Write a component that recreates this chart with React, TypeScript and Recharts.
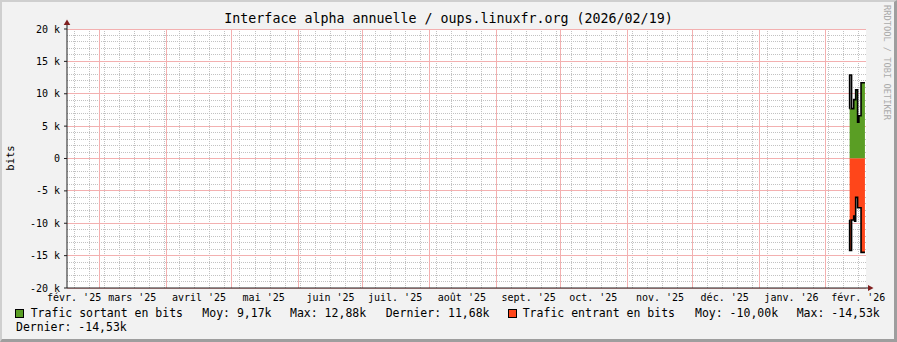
import { ComposedChart, Area, Line, XAxis, YAxis, ReferenceLine, ReferenceDot } from "recharts";

const FONT = "'DejaVu Sans Mono', monospace";

// x = days counted from 2025-03-01
const xDomain: [number, number] = [-15.3, 355.6];
const monthStarts = [0, 31, 61, 92, 122, 153, 184, 214, 245, 275, 306, 337];
const weekTicks = Array.from({ length: 53 }, (_, i) => -12 + 7 * i).filter((d) => !monthStarts.includes(d)); // Mondays
const labelDays = [-12, 15, 46, 76, 107, 137, 168, 199, 229, 260, 290, 321, 352];
const monthLabels = [
  "févr. '25", "mars '25", "avril '25", "mai '25", "juin '25", "juil. '25", "août '25",
  "sept. '25", "oct. '25", "nov. '25", "déc. '25", "janv. '26", "févr. '26",
];
const yMajor = [-20, -15, -10, -5, 0, 5, 10, 15, 20];
const yMinor = Array.from({ length: 41 }, (_, i) => i - 20).filter((v) => v % 5 !== 0);

// values in k bits
const stepDays = [347.95, 348.0, 348.9, 349.9, 350.3, 350.8, 351.7, 352.3, 353.3, 355.1];
const outLine = [7.7, 12.9, 7.7, 9.1, 9.1, 10.6, 5.6, 6.6, 11.7, 11.7];
const outArea = [null, 7.7, 7.7, 9.1, 9.1, 10.6, 5.6, 6.6, 11.7, 11.7];
const inLine = [-9.5, -14.2, -9.5, -8.9, -9.7, -6.0, -7.6, -7.6, -14.5, -14.5];
const inArea = [null, -14.2, -9.5, -8.9, -9.7, -6.0, -7.6, -7.6, -14.5, -14.5];

const GREEN = "#5a9e24";
const RED = "#ff461a";
const ARROW = "#801f1f";
const AXIS = "#1f1f1f";
const GRID = "#c2c2c2";
const MGRID = "#f3b0b0";

const data = stepDays.map((day, i) => ({
  day,
  outArea: outArea[i],
  outLine: outLine[i],
  inArea: inArea[i],
  inLine: inLine[i],
}));

const MARGIN = { top: 29, right: 31, bottom: 34, left: 0 };
const tickStyle = { fontFamily: FONT, fontSize: 10, fill: "#000" };

const XArrow = (props: any) => {
  const { cx, cy } = props;
  return (
    <g>
      <line x1={cx} y1={cy} x2={cx + 2} y2={cy} stroke={AXIS} />
      <polygon points={`${cx + 2},${cy - 3} ${cx + 7.5},${cy} ${cx + 2},${cy + 3}`} fill={ARROW} />
    </g>
  );
};

const YArrow = (props: any) => {
  const { cx, cy } = props;
  return (
    <g>
      <line x1={cx} y1={cy} x2={cx} y2={cy - 4} stroke={AXIS} />
      <polygon points={`${cx - 3.3},${cy - 4} ${cx},${cy - 9.5} ${cx + 3.3},${cy - 4}`} fill={ARROW} />
    </g>
  );
};

const legendText: { x: number; y: number; t: string }[] = [
  { x: 30.7, y: 307.6, t: "Trafic sortant en bits" },
  { x: 202.3, y: 307.6, t: "Moy: 9,17k" },
  { x: 290, y: 307.6, t: "Max: 12,88k" },
  { x: 385.7, y: 307.6, t: "Dernier: 11,68k" },
  { x: 522.7, y: 307.6, t: "Trafic entrant en bits" },
  { x: 695, y: 307.6, t: "Moy: -10,00k" },
  { x: 796.7, y: 307.6, t: "Max: -14,53k" },
  { x: 16, y: 322, t: "Dernier: -14,53k" },
];

// all grid lines sit in their own chart underneath the series
function GridChart() {
  return (
    <ComposedChart width={897} height={342} data={data} margin={MARGIN}>
      <XAxis dataKey="day" type="number" domain={xDomain} height={20} tick={false} axisLine={false} tickLine={false} allowDataOverflow />
      <YAxis type="number" domain={[-20, 20]} width={67} tick={false} axisLine={false} tickLine={false} allowDataOverflow />
      {weekTicks.map((d) => (
        <ReferenceLine key={`w${d}`} x={d} stroke={GRID} strokeDasharray="1 1" shapeRendering="crispEdges" />
      ))}
      {yMinor.map((v) => (
        <ReferenceLine key={`h${v}`} y={v} stroke={GRID} strokeDasharray="1 1" shapeRendering="crispEdges" />
      ))}
      {monthStarts.map((d) => (
        <ReferenceLine key={`m${d}`} x={d} stroke={MGRID} strokeWidth={1} shapeRendering="crispEdges" />
      ))}
      {yMajor.map((v) => (
        <ReferenceLine key={`M${v}`} y={v} stroke={MGRID} strokeWidth={1} shapeRendering="crispEdges" />
      ))}
    </ComposedChart>
  );
}

export default function App() {
  return (
    <div
      style={{
        position: "absolute",
        left: 0,
        top: 0,
        width: 897,
        height: 342,
        boxSizing: "border-box",
        background: "#f2f2f2",
        borderTop: "2px solid #cfcfcf",
        borderLeft: "2px solid #cfcfcf",
        borderRight: "3px solid #9e9e9e",
        borderBottom: "3px solid #9e9e9e",
        fontFamily: FONT,
        color: "#000",
      }}
    >
      <div style={{ position: "absolute", left: -2, top: -2, width: 897, height: 342 }}>
        <div style={{ position: "absolute", left: 67, top: 29, width: 799, height: 259, background: "#fff" }} />
        <div
          style={{
            position: "absolute",
            left: 0,
            top: 12,
            width: 897,
            textAlign: "center",
            fontSize: 13.3,
            lineHeight: "13px",
            whiteSpace: "pre",
          }}
        >
          Interface alpha annuelle / oups.linuxfr.org (2026/02/19)
        </div>
        <div
          style={{
            position: "absolute",
            left: 10,
            top: 158,
            fontSize: 10.5,
            lineHeight: "10.5px",
            transform: "translate(-50%, -50%) rotate(-90deg)",
            whiteSpace: "pre",
          }}
        >
          bits
        </div>
        <div
          style={{
            position: "absolute",
            left: 882,
            top: 5,
            fontSize: 8.7,
            lineHeight: "9px",
            color: "#aaaaaa",
            writingMode: "vertical-rl",
            whiteSpace: "pre",
          }}
        >
          RRDTOOL / TOBI OETIKER
        </div>
        <div style={{ position: "absolute", left: 0, top: 0 }}>
          <GridChart />
        </div>
        <div style={{ position: "absolute", left: 0, top: 0 }}>
          <ComposedChart width={897} height={342} data={data} margin={MARGIN}>
            <XAxis
              xAxisId="lab"
              dataKey="day"
              type="number"
              domain={xDomain}
              ticks={labelDays}
              interval={0}
              height={20}
              tickLine={false}
              tickSize={5.5}
              tickMargin={0}
              tick={tickStyle}
              axisLine={{ stroke: AXIS }}
              tickFormatter={(v: number) => monthLabels[labelDays.indexOf(v)] ?? ""}
              allowDataOverflow
            />
            <YAxis
              yAxisId="maj"
              type="number"
              domain={[-20, 20]}
              ticks={yMajor}
              interval={0}
              width={67}
              tickSize={3}
              tickMargin={4}
              tick={tickStyle}
              tickLine={{ stroke: AXIS }}
              axisLine={{ stroke: AXIS }}
              tickFormatter={(v: number) => (v === 0 ? "0" : `${v} k`)}
              allowDataOverflow
            />
            <Area
              xAxisId="lab"
              yAxisId="maj"
              dataKey="outArea"
              type="stepAfter"
              fill={GREEN}
              fillOpacity={1}
              stroke="none"
              isAnimationActive={false}
            />
            <Area
              xAxisId="lab"
              yAxisId="maj"
              dataKey="inArea"
              type="stepAfter"
              fill={RED}
              fillOpacity={1}
              stroke="none"
              isAnimationActive={false}
            />
            <Line
              xAxisId="lab"
              yAxisId="maj"
              dataKey="outLine"
              type="stepAfter"
              stroke="#000"
              strokeWidth={1.6}
              dot={false}
              isAnimationActive={false}
            />
            <Line
              xAxisId="lab"
              yAxisId="maj"
              dataKey="inLine"
              type="stepAfter"
              stroke="#000"
              strokeWidth={1.6}
              dot={false}
              isAnimationActive={false}
            />
            <ReferenceDot xAxisId="lab" yAxisId="maj" x={xDomain[1]} y={-20} r={0} shape={XArrow} ifOverflow="visible" />
            <ReferenceDot xAxisId="lab" yAxisId="maj" x={xDomain[0]} y={20} r={0} shape={YArrow} ifOverflow="visible" />
          </ComposedChart>
        </div>
        <div style={{ position: "absolute", left: 15, top: 309, width: 7, height: 7, background: GREEN, border: "1px solid #000" }} />
        <div style={{ position: "absolute", left: 508, top: 309, width: 7, height: 7, background: RED, border: "1px solid #000" }} />
        {legendText.map((l, i) => (
          <div
            key={i}
            style={{
              position: "absolute",
              left: l.x,
              top: l.y,
              fontSize: 11.5,
              lineHeight: "11.5px",
              whiteSpace: "pre",
            }}
          >
            {l.t}
          </div>
        ))}
      </div>
    </div>
  );
}
